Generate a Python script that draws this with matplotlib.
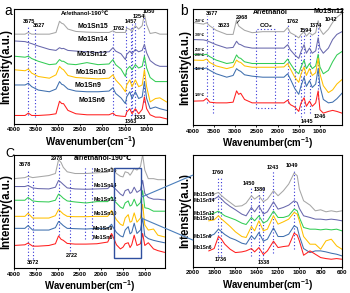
import matplotlib
matplotlib.use('Agg')
import matplotlib.pyplot as plt
from matplotlib.patches import Rectangle, ConnectionPatch

plt.rcParams['font.family'] = ['Liberation Sans', 'DejaVu Sans']
plt.rcParams['font.weight'] = 'bold'
plt.rcParams['mathtext.fontset'] = 'custom'
plt.rcParams['mathtext.rm'] = 'Liberation Sans:bold'
plt.rcParams['mathtext.bf'] = 'Liberation Sans:bold'

GRAY = '#a6a6a6'
PURPLE = '#6868ac'
GREEN = '#33cc55'
YELLOW = '#ffc000'
BLUE = '#3f6fae'
RED = '#ff1f1f'
DOT = '#3535d8'
COLORS = [GRAY, PURPLE, GREEN, YELLOW, BLUE, RED]
SAMPLES = ['Mo1Sn15', 'Mo1Sn14', 'Mo1Sn12', 'Mo1Sn10', 'Mo1Sn9', 'Mo1Sn6']
TEMPS = ['350\u2103', '300\u2103', '250\u2103', '200\u2103', '150\u2103', '100\u2103']

# ---- panel a: Ar/ethanol-190C, stacked spectra (a.u.) ----
wa = [4000, 3750, 3675, 3600, 3450, 3200, 3050, 2970, 2920, 2880, 2780, 2600,
      2350, 2100, 1850, 1762, 1700, 1580, 1480, 1450, 1380, 1330, 1254, 1180,
      1100, 1050, 1000, 920, 800, 700, 550]
a_sn15 = [262, 262, 267, 262, 262, 262, 267, 300, 294, 292, 277, 270, 268, 267,
          267, 272, 267, 267, 267, 280, 276, 270, 287, 277, 287, 322, 290, 264,
          267, 262, 262]
a_sn14 = [242, 240, 237, 234, 227, 217, 214, 222, 219, 220, 214, 212, 210, 208,
          210, 222, 212, 204, 187, 202, 212, 204, 217, 210, 214, 232, 207, 184,
          172, 167, 167]
a_sn12 = [197, 194, 197, 190, 182, 172, 174, 187, 182, 182, 174, 172, 178, 172,
          174, 187, 172, 159, 137, 157, 167, 157, 172, 162, 167, 197, 162, 134,
          122, 122, 122]
a_sn10 = [157, 154, 159, 147, 137, 132, 142, 167, 160, 157, 140, 134, 132, 130,
          132, 142, 127, 110, 92, 112, 127, 107, 127, 107, 112, 157, 107, 62,
          72, 74, 62]
a_sn9 = [112, 112, 117, 107, 97, 92, 100, 122, 114, 112, 100, 94, 92, 92, 94,
         104, 87, 74, 57, 77, 92, 72, 92, 72, 77, 122, 72, 42, 47, 42, 37]
a_sn6 = [22, 22, 29, 22, 22, 24, 27, 64, 57, 57, 37, 27, 24, 24, 24, 29, 22, 20,
         19, 32, 42, 27, 42, 27, 40, 77, 42, 24, 17, 17, 12]
a_peaks = [3675, 3527, 1762, 1457, 1363, 1333, 1254, 1050]

# ---- panel b: Ar/ethanol, Mo1Sn12 at 100-350C ----
wb = [4000, 3750, 3677, 3600, 3450, 3200, 3050, 2968, 2920, 2870, 2780, 2600,
      2350, 2100, 1850, 1762, 1700, 1594, 1500, 1445, 1374, 1320, 1246, 1180,
      1100, 1042, 1000, 920, 800, 700, 600, 480]
b_350 = [300, 295, 299, 290, 277, 265, 265, 307, 290, 285, 277, 270, 273, 273,
         273, 285, 270, 263, 255, 265, 273, 260, 270, 263, 270, 305, 280, 265,
         280, 300, 315, 327]
b_300 = [250, 249, 247, 243, 235, 225, 227, 245, 237, 235, 229, 225, 225, 225,
         225, 235, 220, 205, 195, 215, 235, 210, 225, 210, 217, 255, 225, 210,
         225, 250, 265, 273]
b_250 = [207, 205, 207, 200, 190, 180, 183, 205, 197, 195, 185, 180, 180, 180,
         180, 193, 180, 160, 150, 170, 190, 165, 180, 165, 173, 207, 170, 150,
         160, 185, 205, 215]
b_200 = [190, 189, 193, 183, 173, 165, 170, 190, 185, 183, 173, 169, 169, 169,
         170, 180, 165, 140, 125, 150, 170, 145, 165, 145, 153, 195, 150, 115,
         95, 103, 120, 133]
b_150 = [165, 165, 167, 160, 150, 140, 145, 165, 160, 157, 147, 143, 140, 140,
         140, 150, 135, 107, 90, 115, 140, 113, 130, 110, 120, 165, 115, 75, 65,
         67, 77, 93]
b_100 = [70, 71, 78, 67, 65, 65, 67, 100, 90, 93, 75, 65, 65, 65, 65, 73, 60, 53,
         40, 65, 80, 55, 70, 55, 65, 100, 45, 35, 40, 43, 40, 35]
b_peaks = [3677, 3523, 1762, 1594, 1445, 1374, 1246, 1042]

# ---- panel c: air/ethanol-190C ----
wc = [4000, 3750, 3678, 3572, 3450, 3200, 3050, 2978, 2920, 2870, 2780, 2600,
      2350, 2100, 1850, 1762, 1736, 1650, 1560, 1500, 1450, 1380, 1338, 1300,
      1243, 1180, 1100, 1049, 1000, 920, 800, 700, 550]
c_sn15 = [261, 264, 268, 264, 266, 270, 276, 316, 308, 294, 281, 276, 276, 278,
          280, 294, 288, 276, 268, 266, 281, 278, 271, 278, 291, 286, 296, 331,
          286, 261, 261, 258, 258]
c_sn14 = [238, 238, 241, 234, 232, 231, 236, 256, 250, 244, 234, 231, 230, 231,
          232, 243, 238, 228, 216, 211, 226, 230, 218, 221, 236, 221, 228, 256,
          218, 206, 201, 201, 199]
c_sn12 = [198, 198, 206, 196, 194, 193, 198, 216, 210, 204, 196, 193, 190, 194,
          194, 208, 201, 190, 178, 174, 190, 196, 181, 184, 201, 181, 191, 226,
          176, 174, 166, 166, 166]
c_sn10 = [151, 151, 160, 146, 146, 146, 153, 171, 164, 158, 151, 150, 150, 151,
          151, 168, 160, 141, 128, 124, 146, 156, 134, 136, 161, 134, 146, 186,
          126, 111, 114, 96, 91]
c_sn9 = [116, 116, 124, 111, 111, 111, 118, 136, 130, 124, 116, 115, 114, 116,
         116, 128, 121, 104, 94, 91, 111, 121, 100, 104, 131, 101, 111, 146, 94,
         86, 81, 78, 74]
c_sn6 = [66, 68, 73, 64, 64, 66, 71, 94, 84, 81, 72, 70, 70, 71, 76, 101, 94, 68,
         56, 61, 71, 74, 60, 68, 96, 66, 71, 101, 66, 74, 56, 51, 46]
c_peaks = [3678, 3572, 2978, 2722, 2380, 2220]

# ---- panel d: zoom of panel c, 2000-600 cm-1 ----
wd = [1850, 1800, 1760, 1736, 1700, 1650, 1600, 1540, 1500, 1450, 1420, 1380,
      1338, 1300, 1243, 1200, 1150, 1100, 1049, 1020, 1000, 960, 900, 850, 800,
      750, 700, 650, 600]
d_sn15 = [220, 218, 223, 215, 205, 193, 181, 183, 191, 213, 203, 213, 195, 203,
          228, 213, 228, 248, 281, 273, 233, 198, 185, 168, 171, 165, 168, 165,
          168]
d_sn14 = [203, 203, 211, 205, 193, 181, 171, 158, 153, 178, 165, 183, 158, 165,
          195, 173, 178, 185, 198, 193, 175, 153, 148, 143, 143, 141, 143, 141,
          138]
d_sn12 = [158, 161, 167, 161, 153, 147, 141, 131, 127, 148, 138, 153, 131, 138,
          167, 148, 148, 153, 173, 168, 148, 118, 113, 113, 111, 113, 111, 113,
          108]
d_sn10 = [138, 141, 153, 145, 135, 121, 105, 91, 88, 121, 108, 138, 108, 113,
          153, 128, 135, 143, 163, 158, 138, 91, 68, 68, 53, 78, 83, 63, 53]
d_sn9 = [91, 98, 113, 107, 97, 87, 81, 71, 68, 93, 83, 103, 77, 83, 117, 91, 91,
         98, 123, 118, 93, 55, 43, 48, 48, 45, 41, 38, 33]
d_sn6 = [48, 55, 91, 85, 68, 53, 43, 45, 48, 55, 45, 58, 37, 48, 77, 58, 61, 63,
         101, 95, 78, 35, 48, 38, 28, 25, 23, 25, 23]
d_peaks = [1760, 1736, 1450, 1380, 1338, 1243, 1049]

DOTSTYLE = (0, (1, 2))


def setup(ax, xlim, ylim, xticks, tick_fs=4.5):
    ax.set_xlim(*xlim)
    ax.set_ylim(*ylim)
    ax.set_xticks(xticks)
    ax.set_yticks([])
    ax.tick_params(axis='x', labelsize=tick_fs, length=1.5, width=0.6, pad=1)
    for lab in ax.get_xticklabels():
        lab.set_fontweight('bold')
    for s in ax.spines.values():
        s.set_linewidth(0.8)
    ax.set_xlabel(r'Wavenumber(cm$^{-1}$)', fontsize=7, fontweight='bold',
                  labelpad=1)
    ax.set_ylabel('Intensity(a.u.)', fontsize=8.3, fontweight='bold',
                  labelpad=1.5)


def vlines(ax, xs, spans):
    for x, (lo, hi) in zip(xs, spans):
        ax.plot([x, x], [lo, hi], ls=DOTSTYLE, color=DOT, lw=0.8, zorder=1)


fig = plt.figure(figsize=(3.5, 2.93), dpi=100)
ax_a = fig.add_axes([0.040, 0.577, 0.437, 0.392])
ax_b = fig.add_axes([0.551, 0.573, 0.426, 0.396])
ax_c = fig.add_axes([0.040, 0.085, 0.431, 0.386])
ax_d = fig.add_axes([0.551, 0.089, 0.426, 0.382])

# panel a
for ys, col in zip([a_sn15, a_sn14, a_sn12, a_sn10, a_sn9, a_sn6], COLORS):
    ax_a.plot(wa, ys, color=col, lw=0.75, zorder=2)
vlines(ax_a, a_peaks, [(22, 287), (17, 277), (22, 272), (27, 287), (12, 287),
                       (22, 292), (27, 302), (62, 317)])
setup(ax_a, (4000, 540), (-3, 336), [4000, 3500, 3000, 2500, 2000, 1500, 1000])
for t, x, y in [('3675', 3650, 299), ('3527', 3423, 289), ('1762', 1631, 280),
                ('1457', 1362, 300), ('1254', 1169, 314), ('1050', 938, 329),
                ('1363', 1345, 4), ('1333', 1160, 16)]:
    ax_a.text(x, y, t, fontsize=4, ha='center', va='center')
ax_a.text(2400, 322, 'Ar/ethanol-190\u2103', fontsize=4.2, ha='center',
          va='center')
for t, x, y in zip(SAMPLES, [2208, 2223, 2246, 2262, 2338, 2246],
                   [284, 245, 202, 150, 110, 67]):
    ax_a.text(x, y, t, fontsize=5, ha='center', va='center')

# panel b
for ys, col in zip([b_350, b_300, b_250, b_200, b_150, b_100], COLORS):
    ax_b.plot(wb, ys, color=col, lw=0.75, zorder=2)
vlines(ax_b, b_peaks, [(65, 320), (35, 290), (65, 295), (35, 270), (25, 265),
                       (35, 280), (35, 270), (75, 305)])
ax_b.plot([2500, 2500, 2050, 2050, 2500], [50, 280, 280, 50, 50],
          ls=DOTSTYLE, color=DOT, lw=0.8, zorder=1)
setup(ax_b, (4000, 480), (0, 339), [4000, 3500, 3000, 2500, 2000, 1500, 1000])
for t, x, y in [('3677', 3558, 325), ('3523', 3264, 290), ('2968', 2837, 315),
                ('1762', 1632, 303), ('1594', 1326, 275), ('1374', 1093, 290),
                ('1042', 744, 310), ('1445', 1302, 12), ('1246', 1000, 25)]:
    ax_b.text(x, y, t, fontsize=4, ha='center', va='center')
ax_b.plot([2900, 2960], [307, 298], color='black', lw=0.5)
ax_b.text(2270, 290, r'CO$_x$', fontsize=4.5, ha='center', va='center')
ax_b.text(2178, 330, 'Ar/ethanol', fontsize=5, ha='center', va='center')
ax_b.text(783, 333, 'Mo1Sn12', fontsize=5, ha='center', va='center')
for t, y in zip(TEMPS, [305, 262, 220, 205, 165, 87]):
    ax_b.text(3960, y, t, fontsize=2.5, ha='left', va='center')

# panel c
for ys, col in zip([c_sn15, c_sn14, c_sn12, c_sn10, c_sn9, c_sn6], COLORS):
    ax_c.plot(wc, ys, color=col, lw=0.75, zorder=2)
vlines(ax_c, c_peaks, [(26, 286), (26, 256), (96, 311), (51, 261), (86, 296),
                       (86, 296)])
setup(ax_c, (4000, 540), (0, 330), [4000, 3500, 3000, 2500, 2000, 1500, 1000])
for t, x, y in [('3678', 3746, 301), ('2978', 3015, 321), ('3572', 3554, 16),
                ('2722', 2669, 36)]:
    ax_c.text(x, y, t, fontsize=4, ha='center', va='center')
ax_c.text(1969, 321, 'air/ethanol-190\u2103', fontsize=5, ha='center',
          va='center')
for t, x, y in zip(SAMPLES, [1900, 1900, 1900, 1900, 1954, 1954],
                   [286, 241, 199, 158, 116, 88]):
    ax_c.text(x, y, t, fontsize=3.8, ha='center', va='center')
ax_c.add_patch(Rectangle((1700, 28), 1080 - 1700, 263, fill=False,
                         edgecolor='#2f4f9f', lw=1.0, zorder=3))

# panel d
for ys, col in zip([d_sn15, d_sn14, d_sn12, d_sn10, d_sn9, d_sn6], COLORS):
    ax_d.plot(wd, ys, color=col, lw=0.75, zorder=2)
vlines(ax_d, d_peaks, [(33, 273), (33, 273), (33, 238), (23, 223), (23, 238),
                       (43, 288), (53, 293)])
setup(ax_d, (2000, 600), (0, 335), [2000, 1800, 1600, 1400, 1200, 1000, 800, 600])
for t, x, y in [('1760', 1770, 283), ('1450', 1475, 250), ('1380', 1371, 231),
                ('1243', 1251, 298), ('1049', 1066, 303), ('1736', 1739, 23),
                ('1338', 1330, 13)]:
    ax_d.text(x, y, t, fontsize=4, ha='center', va='center')
for t, y in zip(SAMPLES, [218, 200, 161, 144, 90, 57]):
    ax_d.text(1990, y, t, fontsize=3.4, ha='left', va='center')

# connectors from the box in c to panel d
for yc, yd in [(207, 0.82), (146, 0.24)]:
    con = ConnectionPatch(xyA=(1080, yc), coordsA=ax_c.transData,
                          xyB=(0, yd), coordsB=ax_d.transAxes,
                          color='#4a7ebb', lw=0.8)
    fig.add_artist(con)

fig.text(0.012, 0.985, 'a', fontsize=10, fontweight='normal', va='top')
fig.text(0.515, 0.985, 'b', fontsize=10, fontweight='normal', va='top')
fig.text(0.015, 0.495, 'C', fontsize=9, fontweight='normal', va='top')

fig.savefig('out.png', dpi=100)
